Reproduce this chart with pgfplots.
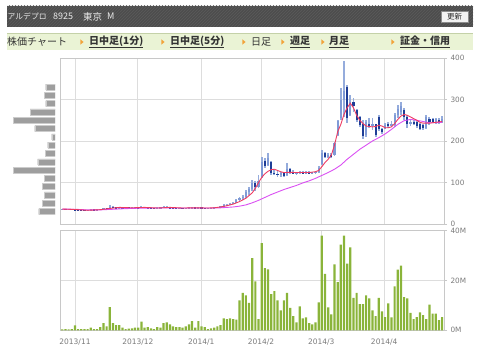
\documentclass[border=0pt]{standalone}
\usepackage{fontspec}
\usepackage{pgfplots}
\usepackage{pgfplotstable}
\pgfplotsset{compat=1.18}
\usetikzlibrary{patterns}
\setmainfont{DejaVu Sans}
\newfontfamily\jp{Noto Sans CJK JP}
\definecolor{gridc}{HTML}{DDDDDD}
\definecolor{axisc}{HTML}{C8C8C8}
\definecolor{labc}{HTML}{7A7A7A}
\definecolor{volg}{HTML}{8AB43A}
\definecolor{wick}{HTML}{95ACDC}
\definecolor{upb}{HTML}{7F9AD6}
\definecolor{dnb}{HTML}{1E3D96}
\definecolor{maA}{HTML}{EE3A62}
\definecolor{maB}{HTML}{DA50F2}
\definecolor{profc}{HTML}{9E9E9E}
\definecolor{hdr}{HTML}{4D4D4D}
\definecolor{navf}{HTML}{EAF3D5}
\definecolor{navb}{HTML}{C4D1A8}
\definecolor{arr}{HTML}{F2A33A}

\pgfplotstableread{
i o h l c
0 36 37 35 36
1 36 37 35 35.5
2 35.5 37 35 36
3 36 37 35 35
4 35 36 33 34
5 34 35 33 33.5
6 33.5 34 32 33
7 33 34 32 32.5
8 32.5 34 32 33.5
9 33.5 35 33 34.5
10 34.5 35 34 34
11 34 35 33 34.5
12 34.5 36 34 35.5
13 35.5 39 35 38
14 38 39 36 37
15 37 45 37 42
16 42 43 39 40
17 40 41 38 39
18 39 41 38 40
19 40 40.5 38 39
20 39 40 38 39.5
21 39.5 40 38 39
22 39 40 38 38.5
23 38.5 40 38 39.5
24 39.5 40 38 39
25 39 43 38 41
26 41 42 39 40
27 40 41 38 39
28 39 40 38 38.5
29 38.5 39 37 38
30 38 40 37 39
31 39 40 38 39.5
32 39.5 43 39 41.5
33 41.5 43 39 40
34 40 41 38 39
35 39 40 38 38.5
36 38.5 39 37 38
37 38 39 37 38.5
38 38.5 39 37 37.5
39 37.5 39 37 38.5
40 38.5 40 38 39
41 39 42 38 40.5
42 40.5 41 38 38.5
43 38.5 42 38 40
44 40 41 38 38.5
45 38.5 39 37 38
46 38 39 37 38
47 38 39 37 38.5
48 38.5 40 38 39.5
49 39.5 42 39 41
50 41 44 40 43
51 43 47 42 45
52 45 48 43 46
53 46 50 45 49
54 49 53 47 51
55 51 60 50 57
56 57 66 55 62
57 62 70 58 66
58 66 82 62 76
59 76 90 70 85
60 85 106 80 98
61 98 104 80 88
62 90 118 86 104
63 114 162 110 150
64 152 160 134 140
65 142 171 140 160
66 150 152 118 124
67 124 130 118 121
68 121 128 113 118
69 118 126 114 122
70 122 125 113 116
71 118 146 116 132
72 132 134 120 124
73 124 130 120 122
74 122 126 118 124
75 124 128 120 126
76 126 128 121 122
77 122 127 120 125
78 125 127 121 123
79 123 126 120 124
80 124 128 121 125
81 125 140 123 136
82 145 178 142 170
83 170 174 158 162
84 162 171 158 166
85 166 170 160 163
86 166 198 164 194
87 214 251 212 248
88 255 328 250 300
89 300 393 258 320
90 330 335 243 255
91 262 311 260 295
92 295 303 270 285
93 275 278 246 250
94 258 260 234 238
95 240 251 206 212
96 215 250 210 245
97 240 255 231 236
98 236 255 226 240
99 240 242 210 215
100 258 262 224 228
101 228 232 218 222
102 230 243 228 238
103 240 246 232 236
104 236 248 234 242
105 238 267 234 262
106 262 287 255 278
107 270 295 263 285
108 275 280 251 258
109 258 262 231 240
110 240 252 236 246
111 246 250 238 242
112 246 248 232 236
113 240 243 226 230
114 238 240 226 232
115 232 263 230 258
116 252 258 238 246
117 254 256 243 246
118 244 256 240 252
119 250 255 242 247
120 246 260 244 254
}\ohlc

\pgfplotstableread{
i v
0 0.4
1 0.5
2 0.4
3 0.5
4 2.0
5 0.5
6 0.5
7 0.5
8 0.5
9 1.1
10 0.5
11 0.5
12 1.3
13 2.9
14 1.6
15 9.3
16 2.9
17 2.1
18 2.1
19 1.1
20 0.5
21 0.7
22 0.8
23 1.1
24 1.1
25 3.5
26 1.1
27 1.3
28 0.8
29 0.5
30 1.3
31 1.1
32 2.9
33 3.2
34 2.4
35 1.6
36 1.3
37 1.3
38 1.1
39 1.6
40 2.4
41 3.7
42 1.1
43 3.7
44 1.6
45 1.3
46 0.5
47 0.8
48 1.1
49 1.6
50 2.1
51 4.8
52 4.5
53 4.8
54 4.5
55 4.3
56 12.0
57 15
58 14
59 11
60 29
61 19.6
62 4.5
63 35
64 25
65 24.5
66 14.5
67 15.7
68 12
69 8
70 12
71 15
72 9
73 5.7
74 3.2
75 9.6
76 4.8
77 5.2
78 2.9
79 2.4
80 3.2
81 11.2
82 38
83 22.7
84 9.2
85 6.4
86 26.5
87 19.3
88 34.4
89 38
90 26.8
91 33.3
92 13
93 15
94 10.5
95 10.5
96 14
97 12.8
98 8
99 5.7
100 13
101 7.6
102 5.3
103 10.8
104 5.2
105 17.6
106 24.4
107 26
108 13.3
109 12.8
110 7
111 4.5
112 5.3
113 7.2
114 6.1
115 4.5
116 10.3
117 6.7
118 6.7
119 4.1
120 5.3
}\vol

\pgfplotstableread{
i v
0 36
4 35
8 33
12 34.5
15 37.5
18 40
22 39
26 40
30 38.5
34 40
38 38.5
42 39
46 38.5
48 39
50 41
52 44
54 48
56 54
58 62
60 75
61 86
62 100
63 112
64 121
65 127
66 131
67 132
68 129
69 126
70 124
72 124.5
74 124
76 124
78 124
80 126
81 129
82 138
83 148
84 156
85 166
86 190
87 222
88 240
89 264
90 280
91 291
92 280
93 262
94 250
95 242
96 236
97 235
98 234
99 235
100 238
101 236
102 232
103 232
104 234
105 242
106 252
107 260
108 264
109 262
110 258
111 254
112 250
113 245
114 243
115 243
116 243
117 244
118 245
119 246
120 247
}\mafast

\pgfplotstableread{
i v
0 36
4 35.5
8 34
12 34
16 35.5
20 37
24 38
28 38.5
32 38.5
36 38.5
40 38.5
44 38.5
48 38.5
50 39
52 40
54 41
56 43
58 46
60 51
62 57
64 64
66 71
68 77
70 83
72 88
74 93
76 99
78 104
80 110
82 117
84 124
86 132
88 142
90 156
92 168
94 180
96 190
98 200
100 208
102 217
104 228
106 240
108 249
110 252
112 250
114 247
116 244
118 244
120 245
}\maslow

\pgfplotstableread{
p len
30 16.3
50 12.7
70 10.7
90 13
110 10.7
130 41.7
150 17.3
170 10
190 7.3
210 3.3
230 20.3
250 41.7
270 25
290 9.3
310 10.7
330 9.3
}\prof

\pgfplotsset{
 base/.style={
   scale only axis, width=384pt,
   xmin=-0.727, xmax=120.6,
   xtick={4.01,23.9,43.9,62.8,81.8,101.7},
   xtick style={draw=none},
   grid=major,
   major grid style={draw=gridc, line width=0.9pt},
   axis line style={draw=axisc, line width=0.9pt},
   ytick pos=right, yticklabel pos=right,
   ytick style={draw=axisc, line width=0.8pt},
   tick align=outside, major tick length=3pt,
   yticklabel style={font=\fontsize{7.3}{8}\selectfont, text=labc},
   xticklabel style={font=\fontsize{7.5}{8}\selectfont, text=labc},
 }
}

\begin{document}
\begin{tikzpicture}
\useasboundingbox (0pt,0pt) rectangle (480pt,354pt);
% header bar
\fill[hdr] (7pt,327.3pt) rectangle (473pt,348pt);
\fill[pattern=north east lines, pattern color=white!8!hdr] (7pt,327.3pt) rectangle (473pt,348pt);
\node[anchor=west, inner sep=0pt, text=white!92!black, font=\jp\fontsize{7.8}{9}\selectfont] at (7.5pt,337.5pt) {アルデプロ};
\node[anchor=west, inner sep=0pt, text=white!92!black, font=\jp\fontsize{9}{10}\selectfont] at (53pt,337.5pt) {8925};
\node[anchor=west, inner sep=0pt, text=white!92!black, font=\jp\fontsize{9.5}{10}\selectfont] at (83pt,337.5pt) {東京};
\node[anchor=west, inner sep=0pt, text=white!92!black, font=\jp\fontsize{9}{10}\selectfont] at (107pt,337.5pt) {M};
\draw[fill=white!95!black, draw=black!45] (441pt,332pt) rectangle (468pt,343pt);
\node[inner sep=0pt, font=\jp\fontsize{7.5}{8}\selectfont, text=black!85] at (454.5pt,337.5pt) {更新};
% nav bar
\fill[navf] (7pt,304pt) rectangle (473pt,320.7pt);
\draw[navb, line width=1.2pt] (7pt,320.3pt) -- (473pt,320.3pt);
\foreach \ax in {82,163,244,283,323,393}{
  \fill[arr] ({(\ax-1.6)*1pt},314.6pt) -- ({(\ax+1.6)*1pt},312pt) -- ({(\ax-1.6)*1pt},309.4pt) -- cycle;
}
\begin{scope}[every node/.style={anchor=west, inner sep=0pt, font=\jp\fontsize{10}{11}\selectfont, text=black!80}]
\node at (7pt,312pt) {株価チャート};
\node at (89pt,312pt) {\bfseries\underline{日中足(1分)}};
\node at (170pt,312pt) {\bfseries\underline{日中足(5分)}};
\node at (251pt,312pt) {日足};
\node at (290pt,312pt) {\bfseries\underline{週足}};
\node at (329pt,312pt) {\bfseries\underline{月足}};
\node at (400pt,312pt) {\bfseries\underline{証金・信用}};
\end{scope}

% volume profile
\begin{axis}[scale only axis, at={(10pt,130pt)}, anchor=south west, width=45pt, height=166pt,
  xmin=0, xmax=45, x dir=reverse, ymin=0, ymax=400, axis lines=none]
\addplot[xbar, bar width=6pt, fill=profc, draw=white!80!black, line width=0.4pt] table[x=len,y=p]{\prof};
\end{axis}

% price panel
\begin{axis}[base, at={(60pt,130pt)}, anchor=south west, height=166pt,
  ymin=0, ymax=400, ytick={0,100,200,300,400}, yticklabels={0,100,200,300,400},
  xticklabels={}]
\addplot[draw=none, mark=none, forget plot,
  error bars/.cd, y dir=both, y explicit, error mark=none,
  error bar style={draw=wick, line width=1.9pt}]
  table[x=i, y expr=(\thisrow{h}+\thisrow{l})/2, y error expr=(\thisrow{h}-\thisrow{l})/2] {\ohlc};
\addplot[draw=none, mark=none, forget plot,
  error bars/.cd, y dir=both, y explicit, error mark=none,
  error bar style={draw=upb, line width=2.2pt}]
  table[x=i, y expr={(\thisrow{c}>=\thisrow{o}) ? (\thisrow{o}+\thisrow{c})/2 : nan},
        y error expr={max(abs(\thisrow{c}-\thisrow{o})/2,0.9)}] {\ohlc};
\addplot[draw=none, mark=none, forget plot,
  error bars/.cd, y dir=both, y explicit, error mark=none,
  error bar style={draw=dnb, line width=2.2pt}]
  table[x=i, y expr={(\thisrow{c}<\thisrow{o}) ? (\thisrow{o}+\thisrow{c})/2 : nan},
        y error expr={max(abs(\thisrow{c}-\thisrow{o})/2,0.9)}] {\ohlc};
\addplot[maB, line width=0.9pt, mark=none] table[x=i,y=v]{\maslow};
\addplot[maA, line width=0.9pt, mark=none] table[x=i,y=v]{\mafast};
\end{axis}

% volume panel
\begin{axis}[base, at={(60pt,23.7pt)}, anchor=south west, height=99.6pt,
  ymin=0, ymax=40, ytick={0,20,40}, yticklabels={0M,20M,40M},
  xticklabels={2013/11,2013/12,2014/1,2014/2,2014/3,2014/4},
  xticklabel style={yshift=-2pt}]
\addplot[ybar, bar width=2.2pt, fill=volg, draw=none] table[x=i,y=v]{\vol};
\end{axis}
\end{tikzpicture}
\end{document}
